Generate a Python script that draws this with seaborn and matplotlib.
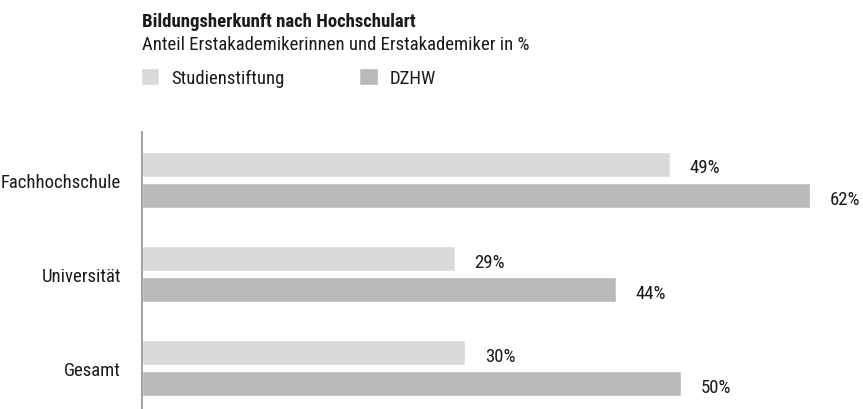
import matplotlib

matplotlib.use("Agg")
import matplotlib.pyplot as plt
import pandas as pd
import seaborn as sns
from matplotlib import font_manager

# Daten aus der Grafik
categories = ["Fachhochschule", "Universität", "Gesamt"]
studienstiftung = [49, 29, 30]
dzhw = [62, 44, 50]
series_names = ["Studienstiftung", "DZHW"]
colors = ["#d9d9d9", "#b9b9b9"]

sns.set_theme(style="white")
# schmale Schrift wie im Original, sonst Liberation Sans etwas kleiner
installed = {f.name for f in font_manager.fontManager.ttflist}
if "Roboto Condensed" in installed:
    plt.rcParams["font.family"] = ["Roboto Condensed", "DejaVu Sans"]
    fs = 13.5
else:
    plt.rcParams["font.family"] = ["Liberation Sans", "DejaVu Sans"]
    fs = 11.5
plt.rcParams["text.color"] = "#1a1a1a"

df = pd.DataFrame({
    "Hochschulart": categories * 2,
    "Anteil": studienstiftung + dzhw,
    "Quelle": [series_names[0]] * 3 + [series_names[1]] * 3,
})

W, H = 863, 410
fig = plt.figure(figsize=(W / 100, H / 100), dpi=100)
# Achse in Pixelkoordinaten platzieren
ax = fig.add_axes([142 / W, 0, 10.78 * 70 / W, 277 / H])

sns.barplot(
    data=df, x="Anteil", y="Hochschulart", hue="Quelle",
    palette=colors, width=0.66, gap=0.19, dodge=True, ax=ax,
    saturation=1,
)

ax.set_xlim(0, 70)
ax.set_ylim(2.436, -0.51)
ax.set_xlabel("")
ax.set_ylabel("")
ax.set_xticks([])
ax.tick_params(axis="y", length=0, pad=15, labelsize=fs, labelcolor="#1a1a1a")
for s in ["top", "right", "bottom"]:
    ax.spines[s].set_visible(False)
ax.spines["left"].set_color("#9a9a9a")
ax.spines["left"].set_linewidth(1.3)

for cont in ax.containers:
    labels = ax.bar_label(cont, fmt="%d%%", padding=14, fontsize=fs, color="#1a1a1a")
    for t in labels:
        t.set_verticalalignment("center")
        t.xyann = (14, -2.2)  # etwas unterhalb der Balkenmitte wie im Original

sns.move_legend(
    ax, "upper left", bbox_to_anchor=(141 / W, 1 - 69 / H),
    bbox_transform=fig.transFigure, ncol=2, frameon=False, title=None,
    fontsize=fs, handlelength=0.98, handleheight=1.0, handletextpad=0.62,
    columnspacing=4.0, borderpad=0, borderaxespad=0,
)

fig.text(142 / W, 1 - 27 / H, "Bildungsherkunft nach Hochschulart",
         fontsize=fs, fontweight="bold", va="baseline", ha="left")
fig.text(142 / W, 1 - 49.5 / H, "Anteil Erstakademikerinnen und Erstakademiker in %",
         fontsize=fs, va="baseline", ha="left")

fig.savefig("out.png", dpi=100)
